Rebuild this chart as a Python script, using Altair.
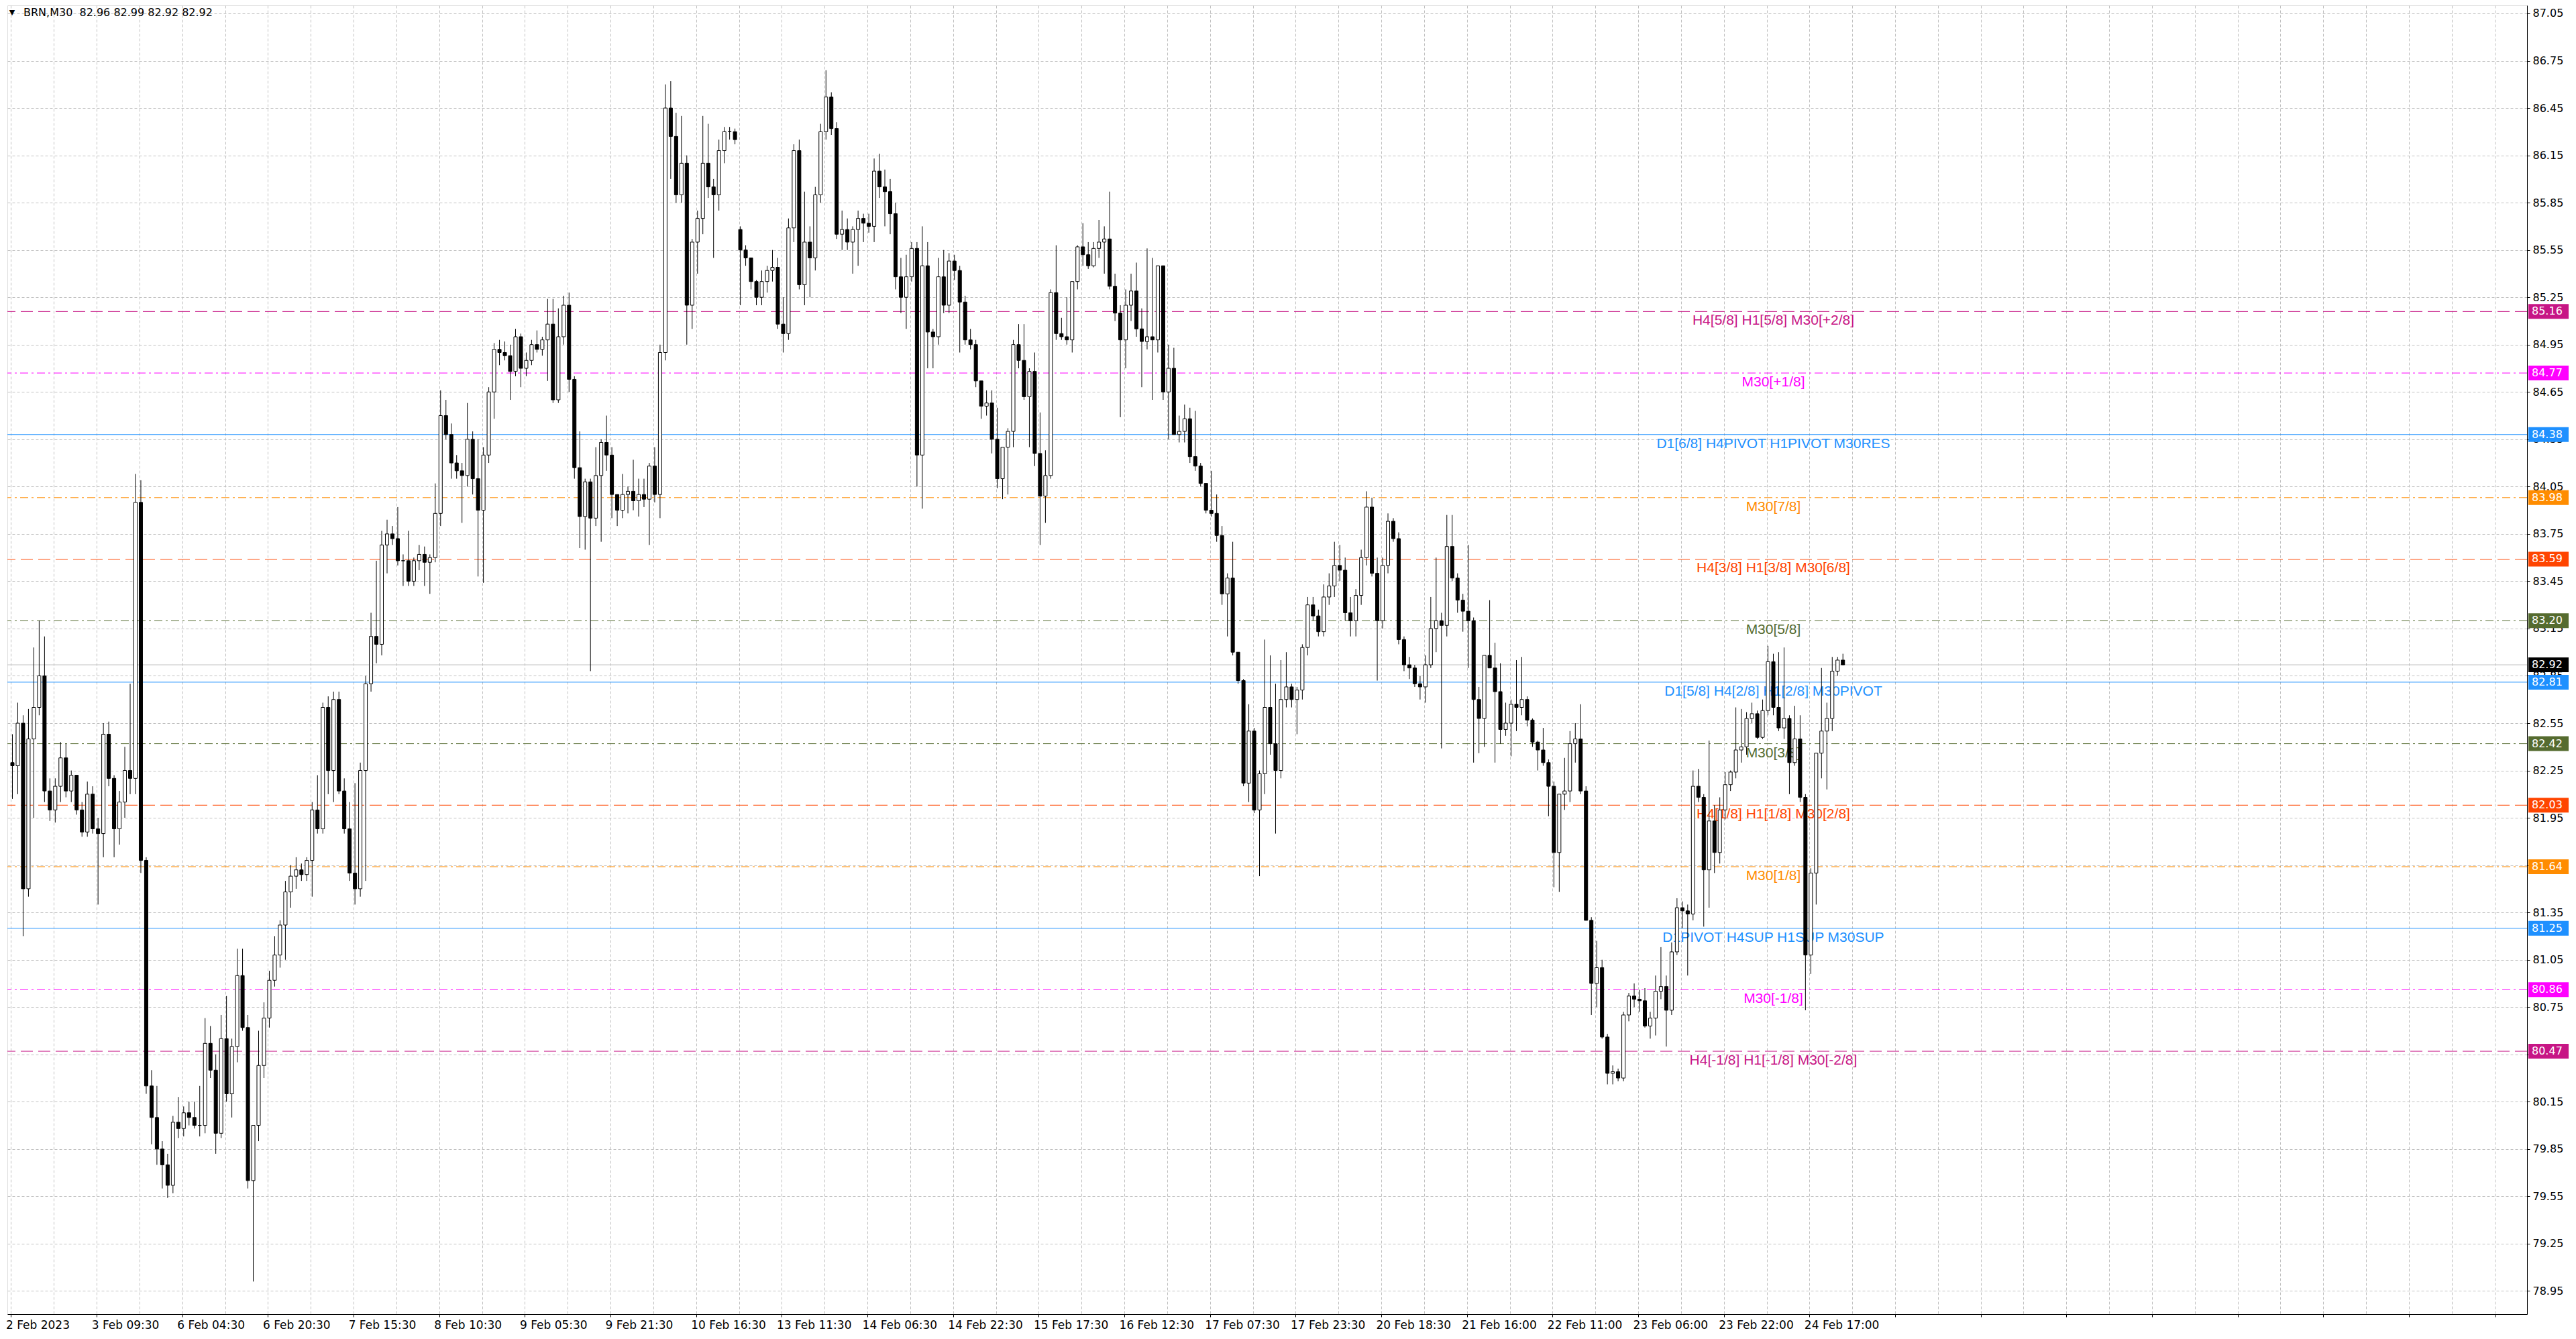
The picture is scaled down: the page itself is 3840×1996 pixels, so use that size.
import altair as alt
import pandas as pd

# BRN,M30 (MetaTrader style) - one candle per hour
opens = [
    82.30, 82.28, 82.55, 81.50, 82.45, 82.65, 82.85, 82.12, 82.00, 82.15,
    82.33, 82.12, 82.22, 82.00, 81.86, 82.10, 81.88, 81.85, 82.48, 82.20,
    81.88, 82.05, 82.25, 82.20, 83.95, 81.68, 80.25, 80.05, 79.85, 79.75,
    79.62, 80.02, 79.98, 80.08, 80.05, 80.00, 80.00, 80.52, 80.35, 79.95,
    80.55, 80.20, 80.50, 80.95, 80.62, 79.65, 80.00, 80.38, 80.68, 80.92,
    81.08, 81.27, 81.48, 81.58, 81.62, 81.59, 81.68, 82.00, 81.88, 82.65,
    82.25, 82.70, 82.12, 81.88, 81.60, 81.50, 82.25, 82.80, 83.10, 83.05,
    83.68, 83.75, 83.72, 83.58, 83.58, 83.45, 83.58, 83.62, 83.57, 83.60,
    83.88, 84.50, 84.38, 84.20, 84.15, 84.12, 84.35, 84.10, 83.90, 84.25,
    84.65, 84.92, 84.90, 84.88, 84.78, 85.00, 84.80, 84.85, 84.95, 84.92,
    84.98, 85.08, 84.60, 85.00, 85.20, 84.73, 84.17, 83.86, 84.08, 83.85,
    84.12, 84.33, 84.25, 84.00, 83.90, 84.00, 84.02, 83.96, 84.00, 83.97,
    84.18, 84.00, 84.90, 86.45, 86.27, 85.90, 86.10, 85.20, 85.60, 85.75,
    86.10, 85.95, 85.90, 86.18, 86.30, 86.30, 85.68, 85.55, 85.50, 85.35,
    85.25, 85.35, 85.42, 85.44, 85.08, 85.02, 85.69, 86.18, 85.33, 85.60,
    85.50, 85.90, 86.30, 86.52, 86.32, 85.65, 85.68, 85.60, 85.68, 85.75,
    85.72, 85.70, 86.05, 85.95, 85.92, 85.78, 85.38, 85.25, 85.38, 85.56,
    84.25, 85.45, 85.03, 85.00, 85.38, 85.20, 85.48, 85.42, 85.22, 84.98,
    84.95, 84.72, 84.56, 84.58, 84.35, 84.10, 84.30, 84.40, 84.95, 84.85,
    84.62, 84.78, 84.26, 83.99, 84.12, 85.28, 85.02, 85.00, 84.98, 85.35,
    85.57, 85.52, 85.45, 85.56, 85.60, 85.62, 85.32, 85.15, 84.98, 85.20,
    85.29, 85.05, 84.97, 85.00, 84.98, 85.45, 84.65, 84.80, 84.38, 84.40,
    84.48, 84.24, 84.18, 84.07, 83.90, 83.88, 83.74, 83.37, 83.47, 83.00,
    82.82, 82.17, 82.50, 82.00, 82.23, 82.65, 82.42, 82.25, 82.70, 82.78,
    82.70, 82.76, 83.03, 83.30, 83.23, 83.13, 83.35, 83.42, 83.55, 83.52,
    83.25, 83.20, 83.36, 83.60, 83.92, 83.50, 83.20, 83.55, 83.83, 83.72,
    83.08, 82.92, 82.90, 82.80, 82.78, 82.92, 83.15, 83.20, 83.17, 83.67,
    83.47, 83.33, 83.26, 83.20, 82.70, 82.58, 82.98, 82.90, 82.75, 82.51,
    82.55, 82.67, 82.65, 82.70, 82.57, 82.43, 82.38, 82.30, 82.15, 81.73,
    82.10, 82.12, 82.42, 82.45, 82.12, 81.30, 80.90, 81.00, 80.56, 80.33,
    80.34, 80.30, 80.70, 80.82, 80.80, 80.79, 80.63, 80.68, 80.85, 80.88,
    80.73, 81.10, 81.38, 81.36, 81.34, 82.15, 82.08, 81.62, 81.93, 81.73,
    82.00, 82.16, 82.24, 82.38, 82.40, 82.58, 82.61, 82.46, 82.63, 82.94,
    82.65, 82.52, 82.58, 82.30, 82.45, 82.08, 81.08, 81.60, 82.36, 82.50,
    82.58, 82.88, 82.95,
]
highs = [
    82.48, 82.68, 82.60, 82.64, 83.03, 83.20, 83.10, 82.20, 82.20, 82.43,
    82.42, 82.25, 82.22, 82.05, 82.18, 82.15, 81.95, 82.55, 82.56, 82.22,
    82.12, 82.40, 82.80, 84.13, 84.09, 81.70, 80.35, 80.25, 79.90, 79.82,
    80.06, 80.18, 80.12, 80.15, 80.15, 80.25, 80.68, 80.63, 80.45, 80.70,
    80.82, 80.55, 81.12, 81.12, 80.70, 79.70, 80.60, 80.78, 80.98, 81.20,
    81.30, 81.55, 81.65, 81.70, 81.66, 81.70, 82.05, 82.22, 82.68, 82.72,
    82.75, 82.75, 82.20, 82.05, 82.17, 82.30, 82.85, 83.25, 83.58, 83.77,
    83.84, 83.80, 83.92, 83.62, 83.77, 83.60, 83.68, 83.67, 83.62, 84.07,
    84.66, 84.60, 84.45, 84.25, 84.20, 84.58, 84.40, 84.35, 84.30, 84.68,
    84.96, 84.98, 84.97, 84.95, 85.05, 85.02, 84.90, 84.98, 85.04, 85.00,
    85.24, 85.24, 85.18, 85.26, 85.28, 84.75, 84.40, 84.10, 84.10, 84.30,
    84.35, 84.50, 84.30, 84.00, 84.13, 84.05, 84.22, 84.10, 84.10, 84.20,
    84.30, 84.95, 86.60, 86.62, 86.42, 86.40, 86.15, 85.62, 85.80, 86.40,
    86.35, 86.00, 86.25, 86.33, 86.33, 86.32, 85.70, 85.58, 85.50, 85.36,
    85.42, 85.45, 85.55, 85.50, 85.25, 85.75, 86.22, 86.25, 85.92, 85.70,
    85.95, 86.35, 86.69, 86.55, 86.36, 85.80, 85.75, 85.70, 85.80, 85.78,
    85.78, 86.13, 86.16, 86.06, 86.00, 85.85, 85.50, 85.52, 85.60, 85.60,
    85.70, 85.60, 85.05, 85.50, 85.55, 85.53, 85.52, 85.45, 85.26, 85.05,
    84.98, 84.72, 84.66, 84.66, 84.55, 84.25, 84.42, 84.98, 85.08, 85.08,
    84.80, 84.90, 84.52, 84.28, 85.30, 85.58, 85.12, 85.25, 85.35, 85.58,
    85.72, 85.60, 85.60, 85.74, 85.70, 85.92, 85.40, 85.20, 85.30, 85.40,
    85.47, 85.18, 85.56, 85.50, 85.45, 85.45, 84.95, 84.93, 84.50, 84.57,
    84.55, 84.53, 84.20, 84.07, 84.15, 84.00, 83.80, 83.50, 83.70, 83.00,
    82.83, 82.67, 82.52, 82.25, 83.08, 82.98, 82.80, 82.95, 83.00, 82.80,
    82.78, 83.05, 83.35, 83.35, 83.27, 83.43, 83.50, 83.70, 83.68, 83.60,
    83.35, 83.40, 83.65, 84.02, 83.98, 83.60, 83.60, 83.88, 83.85, 83.76,
    83.10, 82.97, 82.92, 82.85, 82.98, 83.35, 83.60, 83.25, 83.87, 83.87,
    83.50, 83.37, 83.68, 83.22, 82.78, 82.98, 83.33, 83.06, 82.93, 82.68,
    82.70, 82.95, 82.97, 82.72, 82.58, 82.44, 82.52, 82.32, 82.18, 82.10,
    82.33, 82.50, 82.55, 82.67, 82.15, 81.32, 81.17, 81.05, 80.58, 80.38,
    80.36, 80.72, 80.84, 80.90, 80.86, 80.87, 80.72, 80.95, 81.13, 80.95,
    81.16, 81.44, 81.42, 81.40, 82.25, 82.26, 82.10, 82.44, 82.03, 82.08,
    82.24, 82.25, 82.65, 82.64, 82.62, 82.68, 82.63, 82.70, 83.04, 82.99,
    83.00, 83.03, 82.60, 82.66, 82.60, 82.10, 81.63, 82.36, 82.90, 82.68,
    82.97, 82.97, 82.99,
]
lows = [
    82.07, 82.10, 81.20, 81.45, 81.95, 82.60, 82.05, 81.93, 81.92, 82.05,
    82.08, 82.05, 81.97, 81.83, 81.83, 81.85, 81.40, 81.70, 82.15, 81.70,
    81.78, 81.95, 82.10, 82.10, 81.60, 80.20, 79.88, 79.75, 79.60, 79.54,
    79.57, 79.92, 79.93, 80.00, 79.98, 79.93, 79.95, 80.30, 79.82, 79.92,
    80.15, 80.05, 80.40, 80.60, 79.60, 79.01, 79.90, 80.30, 80.62, 80.88,
    81.00, 81.05, 81.38, 81.50, 81.55, 81.55, 81.45, 81.85, 81.85, 82.10,
    82.05, 82.10, 81.85, 81.55, 81.40, 81.45, 81.55, 82.75, 82.93, 82.98,
    83.50, 83.68, 83.55, 83.42, 83.42, 83.42, 83.52, 83.42, 83.37, 83.57,
    83.80, 84.35, 84.10, 84.10, 83.82, 84.05, 84.00, 83.48, 83.44, 84.20,
    84.48, 84.82, 84.85, 84.60, 84.75, 84.68, 84.75, 84.82, 84.90, 84.88,
    84.72, 84.58, 84.58, 84.95, 84.65, 84.10, 83.66, 83.65, 82.88, 83.80,
    83.70, 84.15, 83.85, 83.80, 83.85, 83.88, 83.90, 83.86, 83.92, 83.68,
    83.95, 83.85, 84.85, 86.00, 85.85, 85.85, 84.95, 85.05, 85.40, 85.65,
    85.88, 85.50, 85.80, 86.10, 86.25, 86.22, 85.20, 85.45, 85.30, 85.20,
    85.20, 85.28, 85.35, 85.05, 84.90, 84.98, 85.60, 85.30, 85.20, 85.25,
    85.42, 85.85, 86.25, 86.28, 85.62, 85.55, 85.55, 85.40, 85.45, 85.60,
    85.66, 85.60, 85.88, 85.70, 85.65, 85.30, 85.15, 85.05, 85.35, 84.05,
    83.91, 84.80, 84.80, 84.95, 85.15, 85.15, 85.36, 84.90, 84.95, 84.92,
    84.68, 84.48, 84.50, 84.26, 84.04, 83.97, 84.00, 84.30, 84.80, 84.60,
    84.30, 84.18, 83.68, 83.82, 84.10, 84.98, 84.98, 84.95, 84.90, 85.30,
    85.45, 85.43, 85.44, 85.50, 85.40, 85.30, 85.10, 84.49, 84.80, 85.10,
    85.00, 84.68, 84.92, 84.60, 84.90, 84.60, 84.35, 84.38, 84.33, 84.33,
    84.20, 84.15, 84.05, 83.88, 83.86, 83.70, 83.30, 83.10, 82.98, 82.80,
    82.15, 82.05, 81.98, 81.58, 82.10, 82.35, 81.85, 82.20, 82.65, 82.65,
    82.48, 82.70, 82.98, 83.20, 83.10, 83.10, 83.30, 83.35, 83.45, 83.20,
    83.10, 83.10, 83.30, 83.55, 83.48, 82.82, 83.15, 83.50, 83.70, 83.05,
    82.88, 82.83, 82.78, 82.70, 82.68, 82.90, 83.00, 82.39, 83.10, 83.45,
    83.25, 83.13, 82.90, 82.30, 82.36, 82.40, 82.90, 82.30, 82.42, 82.47,
    82.34, 82.50, 82.60, 82.53, 82.40, 82.25, 82.28, 81.96, 81.51, 81.48,
    82.00, 82.05, 82.30, 82.10, 81.30, 80.70, 80.75, 80.55, 80.26, 80.26,
    80.28, 80.28, 80.66, 80.75, 80.72, 80.62, 80.55, 80.57, 80.80, 80.50,
    80.70, 81.08, 81.25, 80.95, 81.30, 82.05, 81.26, 81.38, 81.60, 81.66,
    81.94, 82.12, 82.20, 82.30, 82.35, 82.55, 82.45, 82.45, 82.60, 82.60,
    82.50, 82.45, 82.10, 82.28, 82.05, 80.73, 80.96, 81.40, 82.20, 82.13,
    82.50, 82.85, 82.92,
]
closes = [
    82.28, 82.55, 81.50, 82.45, 82.65, 82.85, 82.12, 82.00, 82.15, 82.33,
    82.12, 82.22, 82.00, 81.86, 82.10, 81.88, 81.85, 82.48, 82.20, 81.88,
    82.05, 82.25, 82.20, 83.95, 81.68, 80.25, 80.05, 79.85, 79.75, 79.62,
    80.02, 79.98, 80.08, 80.05, 80.00, 80.00, 80.52, 80.35, 79.95, 80.55,
    80.20, 80.50, 80.95, 80.62, 79.65, 80.00, 80.38, 80.68, 80.92, 81.08,
    81.27, 81.48, 81.58, 81.62, 81.59, 81.68, 82.00, 81.88, 82.65, 82.25,
    82.70, 82.12, 81.88, 81.60, 81.50, 82.25, 82.80, 83.10, 83.05, 83.68,
    83.75, 83.72, 83.58, 83.58, 83.45, 83.58, 83.62, 83.57, 83.60, 83.88,
    84.50, 84.38, 84.20, 84.15, 84.12, 84.35, 84.10, 83.90, 84.25, 84.65,
    84.92, 84.90, 84.88, 84.78, 85.00, 84.80, 84.85, 84.95, 84.92, 84.98,
    85.08, 84.60, 85.00, 85.20, 84.73, 84.17, 83.86, 84.08, 83.85, 84.12,
    84.33, 84.25, 84.00, 83.90, 84.00, 84.02, 83.96, 84.00, 83.97, 84.18,
    84.00, 84.90, 86.45, 86.27, 85.90, 86.10, 85.20, 85.60, 85.75, 86.10,
    85.95, 85.90, 86.18, 86.30, 86.30, 86.25, 85.55, 85.50, 85.35, 85.25,
    85.35, 85.42, 85.44, 85.08, 85.02, 85.69, 86.18, 85.33, 85.60, 85.50,
    85.90, 86.30, 86.52, 86.32, 85.65, 85.68, 85.60, 85.68, 85.75, 85.72,
    85.70, 86.05, 85.95, 85.92, 85.78, 85.38, 85.25, 85.38, 85.56, 84.25,
    85.45, 85.03, 85.00, 85.38, 85.20, 85.48, 85.42, 85.22, 84.98, 84.95,
    84.72, 84.56, 84.58, 84.35, 84.10, 84.30, 84.40, 84.95, 84.85, 84.62,
    84.78, 84.26, 83.99, 84.12, 85.28, 85.02, 85.00, 84.98, 85.35, 85.57,
    85.52, 85.45, 85.56, 85.60, 85.62, 85.32, 85.15, 84.98, 85.20, 85.29,
    85.05, 84.97, 85.00, 84.98, 85.45, 84.65, 84.80, 84.38, 84.40, 84.48,
    84.24, 84.18, 84.07, 83.90, 83.88, 83.74, 83.37, 83.47, 83.00, 82.82,
    82.17, 82.50, 82.00, 82.23, 82.65, 82.42, 82.25, 82.70, 82.78, 82.70,
    82.76, 83.03, 83.30, 83.23, 83.13, 83.35, 83.42, 83.55, 83.52, 83.25,
    83.20, 83.36, 83.60, 83.92, 83.50, 83.20, 83.55, 83.83, 83.72, 83.08,
    82.92, 82.90, 82.80, 82.78, 82.92, 83.15, 83.20, 83.17, 83.67, 83.47,
    83.33, 83.26, 83.20, 82.70, 82.58, 82.98, 82.90, 82.75, 82.51, 82.55,
    82.67, 82.65, 82.70, 82.57, 82.43, 82.38, 82.30, 82.15, 81.73, 82.10,
    82.12, 82.42, 82.45, 82.12, 81.30, 80.90, 81.00, 80.56, 80.33, 80.34,
    80.30, 80.70, 80.82, 80.80, 80.79, 80.63, 80.68, 80.85, 80.88, 80.73,
    81.10, 81.38, 81.36, 81.34, 82.15, 82.08, 81.62, 81.93, 81.73, 82.00,
    82.16, 82.24, 82.38, 82.40, 82.58, 82.61, 82.46, 82.63, 82.94, 82.65,
    82.52, 82.58, 82.30, 82.45, 82.08, 81.08, 81.60, 82.36, 82.50, 82.58,
    82.88, 82.95, 82.92,
]

x_labels = ["2 Feb 2023", "3 Feb 09:30", "6 Feb 04:30", "6 Feb 20:30", "7 Feb 15:30",
            "8 Feb 10:30", "9 Feb 05:30", "9 Feb 21:30", "10 Feb 16:30", "13 Feb 11:30",
            "14 Feb 06:30", "14 Feb 22:30", "15 Feb 17:30", "16 Feb 12:30", "17 Feb 07:30",
            "17 Feb 23:30", "20 Feb 18:30", "21 Feb 16:00", "22 Feb 11:00", "23 Feb 06:00",
            "23 Feb 22:00", "24 Feb 17:00"]
y_ticks = [78.95, 79.25, 79.55, 79.85, 80.15, 80.45, 80.75, 81.05, 81.35, 81.65,
           81.95, 82.25, 82.55, 82.85, 83.15, 83.45, 83.75, 84.05, 84.35, 84.65,
           84.95, 85.25, 85.55, 85.85, 86.15, 86.45, 86.75, 87.05]

# Murrey / pivot levels drawn by the indicator
level_prices = [85.16, 84.77, 84.38, 83.98, 83.59, 83.20, 82.81, 82.42, 82.03, 81.64,
                81.25, 80.86, 80.47]
level_names = ["H4[5/8] H1[5/8] M30[+2/8]", "M30[+1/8]", "D1[6/8] H4PIVOT H1PIVOT M30RES",
               "M30[7/8]", "H4[3/8] H1[3/8] M30[6/8]", "M30[5/8]",
               "D1[5/8] H4[2/8] H1[2/8] M30PIVOT", "M30[3/8]", "H4[1/8] H1[1/8] M30[2/8]",
               "M30[1/8]", "D1PIVOT H4SUP H1SUP M30SUP", "M30[-1/8]",
               "H4[-1/8] H1[-1/8] M30[-2/8]"]
level_colors = ["#C71585", "#FF00FF", "#1E90FF", "#FF8C00", "#FF4500", "#556B2F",
                "#1E90FF", "#556B2F", "#FF4500", "#FF8C00", "#1E90FF", "#FF00FF", "#C71585"]
level_styles = ["dash", "dashdot", "solid", "dashdot", "dash", "dashdot", "solid",
                "dashdot", "dash", "dashdot", "solid", "dashdot", "dash"]
last_price = 82.92
label_bar = 329
title_text = "BRN,M30\u00a0 82.96 82.99 82.92 82.92"

assert len(opens) == len(highs) == len(lows) == len(closes)

W, H = 3756, 1951
FONT = "DejaVu Sans"
GRID = "#C0C0C0"

candles = pd.DataFrame({"bar": range(len(opens)), "open": opens, "high": highs,
                        "low": lows, "close": closes})
candles["body_lo"] = candles[["open", "close"]].min(axis=1)
candles["body_hi"] = candles[["open", "close"]].max(axis=1)

levels = pd.DataFrame({"price": level_prices, "name": level_names, "color": level_colors,
                       "style": level_styles, "bar": label_bar})
boxes = pd.DataFrame({"price": level_prices + [last_price],
                      "color": level_colors + ["#000000"]})
boxes["txt"] = boxes["price"].map(lambda p: f"{p:.2f}")

x_scale = alt.Scale(domain=[-0.3125, 469.1875], nice=False, zero=False)
y_scale = alt.Scale(domain=[78.803, 87.101], nice=False, zero=False)

grid_ticks = [8 * k - 0.25 for k in range(59)]
k_expr = "round((datum.value + 0.25) / 8)"
label_js = "[" + ",".join("'" + s + "'" for s in x_labels) + "]"
x_axis = alt.Axis(
    values=grid_ticks,
    labelExpr=f"{k_expr} % 2 == 0 ? (({label_js})[{k_expr} / 2] || '') : ''",
    labelAlign="left", labelBaseline="top", labelPadding=4, labelOffset=-8,
    labelOverlap=False, labelFlush=False, labelFont=FONT, labelFontSize=17,
    labelColor="black", tickSize=4,
    tickColor={"condition": {"test": f"{k_expr} % 2 == 0", "value": "black"},
               "value": "transparent"},
    grid=True, gridColor=GRID, gridDash=[4, 3], domainColor="black", zindex=0,
)
y_axis = alt.Axis(
    orient="right", values=y_ticks, format=".2f", labelOverlap=False, labelFlush=False,
    labelFont=FONT, labelFontSize=16, labelColor="black", labelPadding=4, tickSize=4,
    tickColor="black", grid=True, gridColor=GRID, gridDash=[4, 3], domainColor="black",
    zindex=0,
)


def X(field):
    return alt.X(field, scale=x_scale, axis=x_axis, title=None)


def Y(field):
    return alt.Y(field, scale=y_scale, axis=y_axis, title=None)


level_rules = alt.Chart(levels).mark_rule(strokeWidth=1).encode(
    y=Y("price:Q"),
    color=alt.Color("color:N", scale=None),
    strokeDash=alt.StrokeDash("style:N", legend=None, scale=alt.Scale(
        domain=["dash", "dashdot", "solid"], range=[[18, 8], [12, 5, 3, 5], [1, 0]])),
)
price_rule = alt.Chart(pd.DataFrame({"price": [last_price]})).mark_rule(
    color=GRID, strokeWidth=1).encode(y=Y("price:Q"))

level_text = alt.Chart(levels).mark_text(
    font="Liberation Sans", fontSize=21, baseline="top", align="center", dy=3
).encode(x=X("bar:Q"), y=Y("price:Q"), text="name:N",
         color=alt.Color("color:N", scale=None))

wicks = alt.Chart(candles).mark_rule(color="black", strokeWidth=1).encode(
    x=X("bar:Q"), y=Y("low:Q"), y2="high:Q")
bodies = alt.Chart(candles).mark_bar(size=5, stroke="black", strokeWidth=1).encode(
    x=X("bar:Q"), y=Y("body_lo:Q"), y2="body_hi:Q",
    fill=alt.condition("datum.close >= datum.open", alt.value("white"), alt.value("black")),
)

price_boxes = alt.Chart(boxes).mark_rect(yOffset=-11, y2Offset=11).encode(
    x=alt.value(W + 2), x2=alt.value(W + 62), y=Y("price:Q"), y2="price:Q",
    color=alt.Color("color:N", scale=None))
price_text = alt.Chart(boxes).mark_text(
    align="left", baseline="middle", color="white", font=FONT, fontSize=16
).encode(x=alt.value(W + 7), y=Y("price:Q"), text="txt:N")

header = pd.DataFrame({"t": [title_text], "tri": ["\u25bc"]})
title_tri = alt.Chart(header).mark_text(
    align="center", baseline="middle", fontSize=11, font=FONT, color="black"
).encode(x=alt.value(7), y=alt.value(11), text="tri:N")
title_txt = alt.Chart(header).mark_text(
    align="left", baseline="middle", fontSize=16, font=FONT, color="black"
).encode(x=alt.value(24), y=alt.value(11), text="t:N")

chart = alt.layer(
    level_rules, price_rule, level_text, wicks, bodies, price_boxes, price_text,
    title_tri, title_txt,
).properties(
    width=W, height=H, padding=0, background="white"
).configure_view(stroke="black", strokeWidth=1).configure(font=FONT)

chart.save("out.html", embed_options={"renderer": "svg", "actions": False})
